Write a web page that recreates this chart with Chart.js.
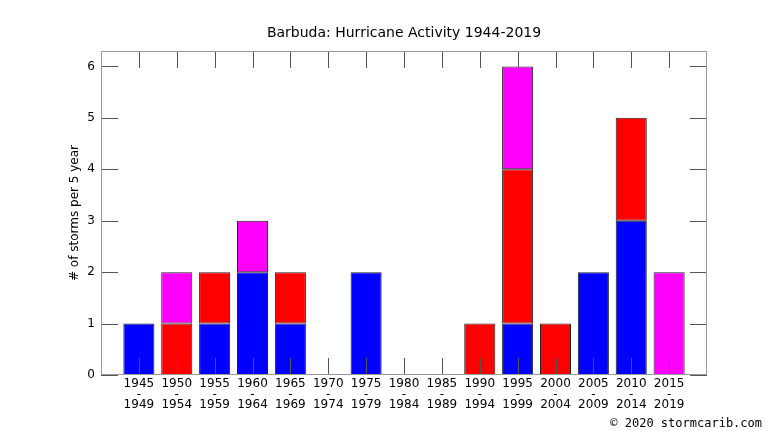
<!DOCTYPE html>
<html lang="en">
<head>
<meta charset="UTF-8">
<title>Barbuda: Hurricane Activity 1944-2019</title>
<script src="https://cdn.jsdelivr.net/npm/chart.js"></script>
<style>
  body { margin: 0; background: #fff; }
  #wrap { width: 766px; height: 431px; }
</style>
</head>
<body>
<div id="wrap"><canvas id="stormChart" width="766" height="431"></canvas></div>
<script>
// five-year periods
const periodStart = [1945, 1950, 1955, 1960, 1965, 1970, 1975, 1980, 1985, 1990, 1995, 2000, 2005, 2010, 2015];
const periodEnd   = [1949, 1954, 1959, 1964, 1969, 1974, 1979, 1984, 1989, 1994, 1999, 2004, 2009, 2014, 2019];

// storms per period, stacked bottom to top
const blueCounts    = [1, 0, 1, 2, 1, 0, 2, 0, 0, 0, 1, 0, 2, 3, 0];
const redCounts     = [0, 1, 1, 0, 1, 0, 0, 0, 0, 1, 3, 1, 0, 2, 0];
const magentaCounts = [0, 1, 0, 1, 0, 0, 0, 0, 0, 0, 2, 0, 0, 0, 2];

const yTicks = [0, 1, 2, 3, 4, 5, 6];

const toPoints = arr => arr.map((v, i) => ({ x: i, y: v }));

// gnuplot-like frame: grey box with ticks pointing inwards
const frameTicks = {
    id: 'frameTicks',
    afterDatasetsDraw(chart) {
        const { ctx, chartArea: a, scales: { x, y } } = chart;
        const len = 17;
        ctx.save();
        ctx.lineWidth = 1;
        ctx.strokeStyle = '#555';
        ctx.beginPath();
        yTicks.forEach(v => {
            const py = Math.round(y.getPixelForValue(v)) + 0.5;
            ctx.moveTo(a.left, py); ctx.lineTo(a.left + len, py);
            ctx.moveTo(a.right, py); ctx.lineTo(a.right - len, py);
        });
        periodStart.forEach((_, i) => {
            const px = Math.round(x.getPixelForValue(i)) + 0.5;
            ctx.moveTo(px, a.bottom); ctx.lineTo(px, a.bottom - len);
            ctx.moveTo(px, a.top); ctx.lineTo(px, a.top + len);
        });
        ctx.stroke();
        ctx.strokeStyle = '#999';
        ctx.strokeRect(Math.round(a.left) + 0.5, Math.round(a.top) + 0.5,
                       Math.round(a.width) - 1, Math.round(a.height) - 1);
        ctx.restore();
    },
    afterDraw(chart) {
        const ctx = chart.ctx;
        ctx.save();
        ctx.font = '12px "DejaVu Sans Mono"';
        ctx.fillStyle = '#000';
        ctx.textAlign = 'right';
        ctx.textBaseline = 'middle';
        ctx.fillText('\u00a9 2020 stormcarib.com', 762, 424);
        ctx.restore();
    }
};

const barStyle = { borderColor: '#222', borderWidth: 1, borderSkipped: false, barPercentage: 0.82, categoryPercentage: 1 };

new Chart(document.getElementById('stormChart'), {
    type: 'bar',
    data: {
        datasets: [
            { label: 'blue', data: toPoints(blueCounts), backgroundColor: '#0000ff', ...barStyle },
            { label: 'red', data: toPoints(redCounts), backgroundColor: '#ff0000', ...barStyle },
            { label: 'magenta', data: toPoints(magentaCounts), backgroundColor: '#ff00ff', ...barStyle }
        ]
    },
    options: {
        responsive: false,
        animation: false,
        devicePixelRatio: 1,
        layout: { padding: { left: 0, right: 59, top: 0, bottom: 0 } },
        plugins: {
            legend: { display: false },
            tooltip: { enabled: false },
            title: {
                display: true,
                fullSize: false,
                text: 'Barbuda: Hurricane Activity 1944-2019',
                color: '#000',
                font: { family: 'DejaVu Sans', size: 14, weight: 'normal' },
                padding: { top: 24.6, bottom: 9.6 }
            }
        },
        scales: {
            x: {
                type: 'linear',
                stacked: true,
                min: -1,
                max: 15,
                offset: false,
                grid: { display: false, drawTicks: false },
                border: { display: false },
                ticks: {
                    stepSize: 1,
                    autoSkip: false,
                    maxRotation: 0,
                    padding: 4,
                    color: '#000',
                    font: { family: 'DejaVu Sans', size: 12, lineHeight: 0.875 },
                    callback: v => (Number.isInteger(v) && v >= 0 && v < periodStart.length)
                        ? [String(periodStart[v]), '-', String(periodEnd[v])] : ''
                },
                afterFit: s => { s.height = 56; }
            },
            y: {
                stacked: true,
                min: 0,
                max: 6.3,
                grid: { display: false, drawTicks: false },
                border: { display: false },
                ticks: {
                    stepSize: 1,
                    includeBounds: false,
                    padding: 6,
                    color: '#000',
                    font: { family: 'DejaVu Sans', size: 12 }
                },
                title: {
                    display: true,
                    text: '# of storms per 5 year',
                    color: '#000',
                    font: { family: 'DejaVu Sans', size: 12 },
                    padding: { top: 68, bottom: 0 }
                },
                afterFit: s => { s.width = 101; }
            }
        }
    },
    plugins: [frameTicks]
});
</script>
</body>
</html>
